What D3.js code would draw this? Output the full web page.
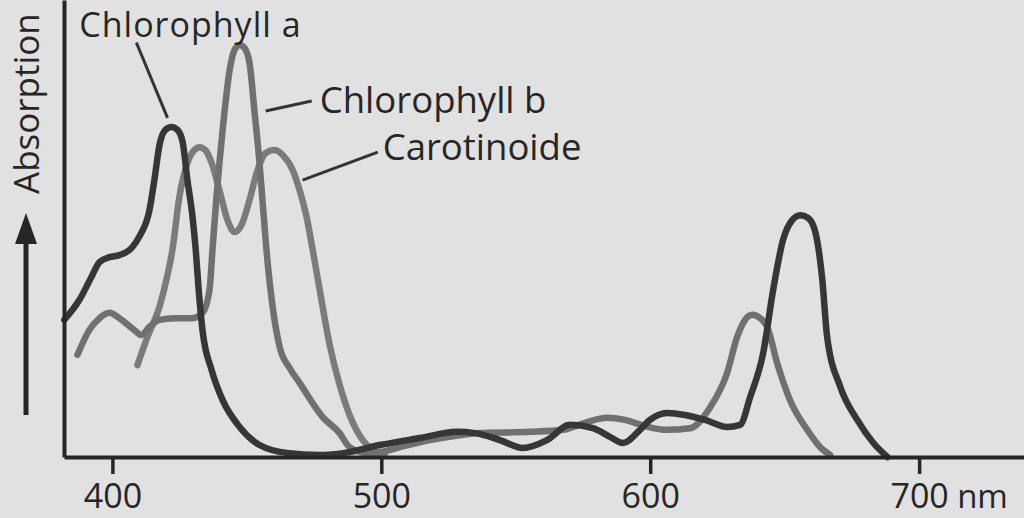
<!DOCTYPE html>
<html><head><meta charset="utf-8">
<script src="https://cdn.jsdelivr.net/npm/d3@7"></script>
<style>html,body{margin:0;padding:0;background:#e1e1e1;overflow:hidden}svg{display:block}</style>
</head><body><svg id="c" width="1024" height="518"></svg>
<script>
// ---- data (wavelength nm, relative absorption) ----
const xTicks = [400, 500, 600, 700];
const xUnit = "nm";
const yLabel = "Absorption";
const seriesNames = ["Chlorophyll a", "Chlorophyll b", "Carotinoide"];

const chlA = [[382.1,33.3],[387.7,38.1],[392.2,43.7],[395.2,47.3],[398.9,48.5],[402.6,49.0],[407.1,50.7],[410.1,53.6],[413.8,60.0],[415.6,67.2],[417.5,75.7],[419.7,79.4],[422.0,80.1],[424.2,79.4],[426.1,76.5],[427.9,67.2],[429.8,58.3],[431.0,50.2],[432.1,40.5],[433.5,30.8],[436.9,21.1],[441.0,13.8],[447.3,7.3],[454.7,2.9],[464.8,1.0],[477.1,0.5],[486.4,1.0],[499.4,2.9],[514.3,4.6],[528.1,6.1],[534.8,5.8],[544.1,4.1],[552.6,2.2],[561.6,4.1],[570.1,7.8],[578.7,7.0],[585.0,4.9],[589.9,3.4],[596.2,6.6],[599.9,9.0],[606.3,10.7],[613.0,10.2],[620.4,9.0],[628.6,7.3],[633.4,7.8],[637.2,14.6],[642.0,25.2],[645.7,40.5],[649.4,52.7],[652.8,57.5],[655.8,58.7],[658.8,58.0],[661.4,54.6],[664.0,43.0],[665.8,29.1],[670.7,17.0],[677.0,9.0],[683.0,3.4],[688.2,0]];

const chlB = [[387.0,24.8],[391.4,30.8],[395.2,33.7],[398.9,35.0],[402.6,33.7],[408.2,30.8],[410.8,29.6],[413.8,31.6],[417.5,33.3],[423.1,33.7],[429.8,33.7],[433.5,35.0],[436.1,40.5],[437.2,50.2],[438.7,63.1],[441.0,79.4],[443.6,93.9],[445.4,98.8],[447.3,100],[449.1,99.3],[451.0,95.6],[452.9,83.5],[454.7,71.4],[455.8,62.4],[457.3,50.2],[459.6,36.4],[462.2,26.7],[465.9,21.6],[469.6,18.0],[478.2,9.7],[484.5,5.8],[488.2,2.4],[494.6,1.0],[499.4,1.2],[508.7,2.7],[518.0,4.1],[527.3,5.1],[536.6,5.8],[555.3,6.1],[567.5,6.6],[575.7,8.3],[583.9,9.5],[590.6,9.0],[598.1,7.5],[606.3,6.6],[614.8,7.0],[622.3,12.1],[628.6,20.4],[632.3,29.1],[635.3,33.3],[637.9,34.5],[640.9,33.7],[643.5,31.6],[647.2,22.8],[652.0,13.8],[658.4,6.6],[663.2,2.4],[666.9,0.5]];

const carot = [[409.3,22.3],[413.0,29.1],[417.5,36.4],[420.5,44.2],[422.3,50.2],[424.9,63.1],[427.9,71.4],[430.5,74.5],[432.4,75.2],[434.6,74.5],[436.9,71.4],[439.8,64.8],[442.8,57.5],[445.4,54.6],[448.0,56.3],[451.0,62.4],[454.0,69.7],[457.0,73.8],[460.3,74.5],[463.3,73.3],[467.0,69.7],[469.6,64.8],[472.2,58.3],[474.5,50.2],[477.1,40.5],[480.8,27.2],[484.5,17.5],[488.2,10.2],[493.1,4.1],[496.8,1.7],[501.3,0.5]];

// label anchors (data units): [text pos], [leader start], [leader end]
const labelPos = [[387.7,102.0],[477.1,83.5],[500.5,72.1]];
const leaderFrom = [[408.9,100.6],[457.0,84.0],[470.7,67.2]];
const leaderTo = [[420.5,82.3],[474.1,86.4],[498.7,74.0]];

// ---- drawing ----
const svg = d3.select("#c");
const W = 1024, H = 518;
const x = d3.scaleLinear().domain([382, 739]).range([64, 1024]);
const y = d3.scaleLinear().domain([0, 100]).range([457, 45]);
const font = "'Open Sans', 'DejaVu Sans', sans-serif";
const ink = "#262626";

svg.append("rect").attr("width", W).attr("height", H).attr("fill", "#e1e1e1");

const line = d3.line().x(d => x(d[0])).y(d => y(d[1])).curve(d3.curveMonotoneX);

const series = [
  {data: carot, color: "#7b7b7b", w: 6.5},
  {data: chlB, color: "#707070", w: 6.5},
  {data: chlA, color: "#363636", w: 6.5}
];
series.forEach(s => {
  svg.append("path").datum(s.data).attr("d", line)
    .attr("fill", "none").attr("stroke", s.color).attr("stroke-width", s.w)
    .attr("stroke-linecap", "round").attr("stroke-linejoin", "round");
});

// axes
const gx = svg.append("g").attr("transform", `translate(0,${y(0)})`)
  .call(d3.axisBottom(x).tickValues(xTicks).tickSize(17).tickSizeOuter(0).tickPadding(0));
gx.select(".domain").attr("stroke", ink).attr("stroke-width", 4);
gx.selectAll(".tick line").attr("stroke", ink).attr("stroke-width", 3.5);
gx.selectAll(".tick text").attr("fill", ink).attr("font-family", font)
  .attr("font-size", 34).attr("y", 51).attr("dy", 0);

const yAxisScale = y.copy().domain([0, y.invert(0)]).range([y(0), 0]);
const gy = svg.append("g").attr("transform", `translate(${x.range()[0]},0)`)
  .call(d3.axisLeft(yAxisScale).tickValues([]).tickSizeOuter(0));
gy.select(".domain").attr("stroke", ink).attr("stroke-width", 4);

// unit
svg.append("text").attr("x", x(700) + 38).attr("y", y(0) + 51)
  .attr("font-family", font).attr("font-size", 33).attr("fill", ink).text(xUnit);

// y label + arrow
svg.append("text").attr("transform", `translate(38.5,194) rotate(-90)`)
  .attr("font-family", font).attr("font-size", 35).attr("fill", ink).text(yLabel);
svg.append("line").attr("x1", 26).attr("x2", 26).attr("y1", 415).attr("y2", 240)
  .attr("stroke", ink).attr("stroke-width", 5);
svg.append("path").attr("d", "M26,213 L37,244 L15,244 Z").attr("fill", ink);

// labels and leaders
const labelSize = [34, 36.5, 36.5];
const labelSpacing = [1, 0, 0];
seriesNames.forEach((n, i) => {
  svg.append("line")
    .attr("x1", x(leaderFrom[i][0])).attr("y1", y(leaderFrom[i][1]))
    .attr("x2", x(leaderTo[i][0])).attr("y2", y(leaderTo[i][1]))
    .attr("stroke", "#333").attr("stroke-width", 3);
  svg.append("text").attr("x", x(labelPos[i][0])).attr("y", y(labelPos[i][1]))
    .attr("font-family", font).attr("font-size", labelSize[i])
    .attr("letter-spacing", labelSpacing[i]).attr("fill", ink).text(n);
});
</script></body></html>
